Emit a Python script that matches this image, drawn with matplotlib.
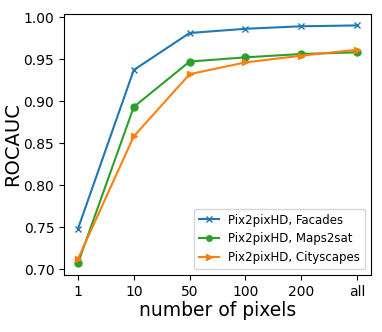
import numpy as np
import matplotlib
matplotlib.use('Agg')
import matplotlib.pyplot as plt

xlabels = ['1', '10', '50', '100', '200', 'all']
facades = [0.748, 0.937, 0.981, 0.986, 0.989, 0.990]
maps2sat = [0.707, 0.893, 0.947, 0.952, 0.956, 0.958]
cityscapes = [0.712, 0.858, 0.932, 0.946, 0.954, 0.961]

x = np.arange(len(xlabels))

fig = plt.figure(figsize=(3.82, 3.32), dpi=100)
ax = fig.add_axes([64 / 382, 57 / 332, 307 / 382, 261 / 332])

ax.plot(x, facades, c='C0', marker='x', ms=5, label='Pix2pixHD, Facades')
ax.plot(x, maps2sat, c='C2', marker='o', ms=5, label='Pix2pixHD, Maps2sat')
ax.plot(x, cityscapes, c='C1', marker='>', ms=5, label='Pix2pixHD, Cityscapes')

ax.set_xticks(x)
ax.set_xticklabels(xlabels)
ax.set_ylim(0.693, 1.0036)
ax.set_yticks([0.70, 0.75, 0.80, 0.85, 0.90, 0.95, 1.00])
ax.tick_params(labelsize=10)
ax.set_xlabel('number of pixels', fontsize=13.5, labelpad=2)
ax.set_ylabel('ROCAUC', fontsize=14)
ax.yaxis.set_label_coords(-0.135, 0.5)
ax.legend(loc='lower right', fontsize=8.5, handlelength=1.7, markerscale=0.8)

fig.savefig('out.png', dpi=100)
